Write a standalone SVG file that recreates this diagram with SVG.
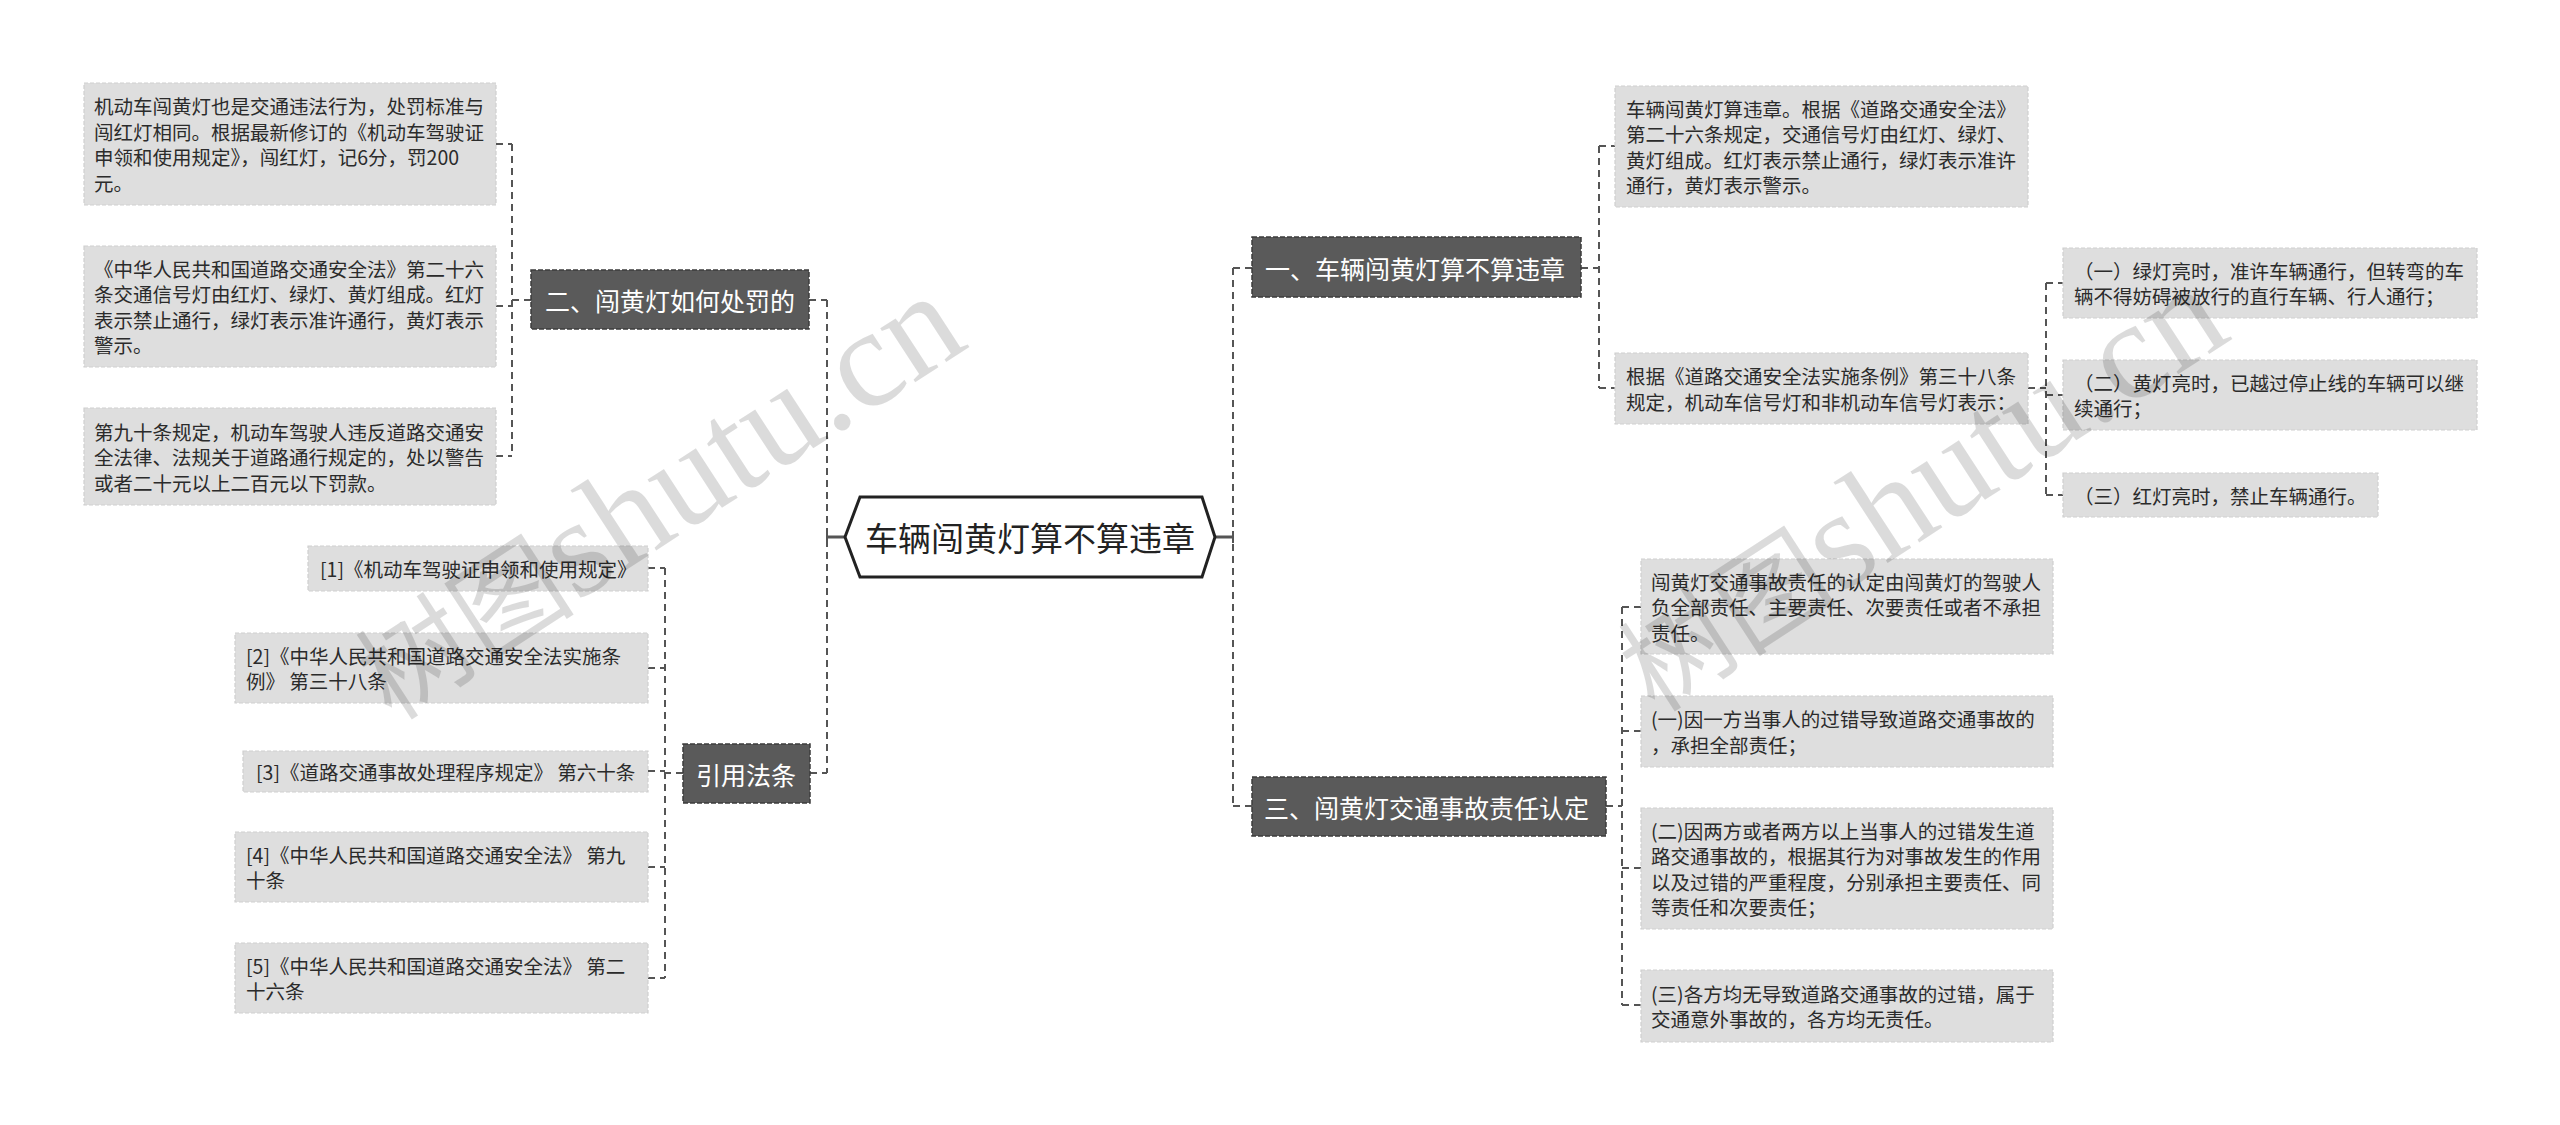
<svg xmlns="http://www.w3.org/2000/svg" width="2560" height="1125" viewBox="0 0 2560 1125">
<style>
  .bg{fill:#ffffff}
  .leaf{fill:#dedede;stroke:#cfcfcf;stroke-width:1.2;stroke-dasharray:4 2}
  .node{fill:#5a5a5a;stroke:#3c3c3c;stroke-width:1.5;stroke-dasharray:5 2}
  .lt{font-family:"Noto Sans CJK SC","Noto Sans",sans-serif;font-size:19.5px;fill:#2b2b2b;dominant-baseline:central}
  .nt{font-family:"Noto Sans CJK SC","Noto Sans",sans-serif;font-size:25px;fill:#ffffff;dominant-baseline:central}
  .rt{font-family:"Noto Sans CJK SC","Noto Sans",sans-serif;font-size:33px;fill:#222222;dominant-baseline:central;text-anchor:middle}
  .con{fill:none;stroke:#555555;stroke-width:2;stroke-dasharray:7 5}
  .sol{fill:none;stroke:#555555;stroke-width:3}
  .wm{font-family:"Noto Sans CJK SC",sans-serif;font-size:110px;fill:#000000;fill-opacity:0.14}
  .wml{font-family:"Liberation Serif",serif;font-size:140px}
</style>
<rect class="bg" x="0" y="0" width="2560" height="1125"/>

<g id="connectors">
  <path class="sol" d="M827,537 H845 M1215,537 H1233"/>
  <path class="sol" d="M827,531 V543 M1233,531 V543" style="stroke-width:2"/>
  <path class="con" d="M827,300 V773"/>
  <path class="con" d="M809,300 H827 M810,773 H827"/>
  <path class="con" d="M531,300 H512 M512,144 V456 M496,144 H512 M496,306 H512 M496,456 H512"/>
  <path class="con" d="M683,773 H665 M665,568 V978 M648,568 H665 M648,668 H665 M648,771 H665 M648,867 H665 M648,978 H665"/>
  <path class="con" d="M1233,268 V806 M1233,268 H1252 M1233,806 H1252"/>
  <path class="con" d="M1581,268 H1599 M1599,146 V388 M1599,146 H1615 M1599,388 H1615"/>
  <path class="con" d="M2028,388 H2046 M2046,283 V495 M2046,283 H2063 M2046,395 H2063 M2046,495 H2063"/>
  <path class="con" d="M1606,806 H1622 M1622,607 V1005 M1622,607 H1641 M1622,731 H1641 M1622,868 H1641 M1622,1005 H1641"/>
</g>

<g id="root">
  <polygon points="845,537 860,497 1202,497 1215,537 1202,577 860,577" fill="#ffffff" stroke="#222222" stroke-width="3"/>
  <text class="rt" x="1030" y="537">车辆闯黄灯算不算违章</text>
</g>

<g id="n2">
  <rect class="node" x="531" y="270" width="278" height="59"/>
  <text class="nt" x="545" y="299.5">二、闯黄灯如何处罚的</text>
</g>
<g id="l1">
  <rect class="leaf" x="84" y="83" width="412" height="122"/>
  <text class="lt" x="94" y="105.75">机动车闯黄灯也是交通违法行为，处罚标准与</text>
  <text class="lt" x="94" y="131.25">闯红灯相同。根据最新修订的《机动车驾驶证</text>
  <text class="lt" x="94" y="156.75">申领和使用规定》，闯红灯，记6分，罚200</text>
  <text class="lt" x="94" y="182.25">元。</text>
</g>
<g id="l2">
  <rect class="leaf" x="84" y="246" width="412" height="121"/>
  <text class="lt" x="94" y="268.25">《中华人民共和国道路交通安全法》第二十六</text>
  <text class="lt" x="94" y="293.75">条交通信号灯由红灯、绿灯、黄灯组成。红灯</text>
  <text class="lt" x="94" y="319.25">表示禁止通行，绿灯表示准许通行，黄灯表示</text>
  <text class="lt" x="94" y="344.75">警示。</text>
</g>
<g id="l3">
  <rect class="leaf" x="84" y="408" width="412" height="97"/>
  <text class="lt" x="94" y="431">第九十条规定，机动车驾驶人违反道路交通安</text>
  <text class="lt" x="94" y="456.5">全法律、法规关于道路通行规定的，处以警告</text>
  <text class="lt" x="94" y="482">或者二十元以上二百元以下罚款。</text>
</g>

<g id="nref">
  <rect class="node" x="683" y="744" width="127" height="59"/>
  <text class="nt" x="696" y="773.5">引用法条</text>
</g>
<g id="r1">
  <rect class="leaf" x="308" y="546" width="340" height="45"/>
  <text class="lt" x="320" y="568.5">[1]《机动车驾驶证申领和使用规定》</text>
</g>
<g id="r2">
  <rect class="leaf" x="235" y="633" width="413" height="70"/>
  <text class="lt" x="246" y="655.25">[2]《中华人民共和国道路交通安全法实施条</text>
  <text class="lt" x="246" y="680.75">例》 第三十八条</text>
</g>
<g id="r3">
  <rect class="leaf" x="243" y="751" width="405" height="41"/>
  <text class="lt" x="256" y="771.5">[3]《道路交通事故处理程序规定》 第六十条</text>
</g>
<g id="r4">
  <rect class="leaf" x="235" y="832" width="413" height="70"/>
  <text class="lt" x="246" y="854.25">[4]《中华人民共和国道路交通安全法》 第九</text>
  <text class="lt" x="246" y="879.75">十条</text>
</g>
<g id="r5">
  <rect class="leaf" x="235" y="943" width="413" height="70"/>
  <text class="lt" x="246" y="965.25">[5]《中华人民共和国道路交通安全法》 第二</text>
  <text class="lt" x="246" y="990.75">十六条</text>
</g>

<g id="n1">
  <rect class="node" x="1252" y="237" width="329" height="60"/>
  <text class="nt" x="1265" y="267.5">一、车辆闯黄灯算不算违章</text>
</g>
<g id="a1">
  <rect class="leaf" x="1615" y="86" width="413" height="121"/>
  <text class="lt" x="1626" y="108.25">车辆闯黄灯算违章。根据《道路交通安全法》</text>
  <text class="lt" x="1626" y="133.75">第二十六条规定，交通信号灯由红灯、绿灯、</text>
  <text class="lt" x="1626" y="159.25">黄灯组成。红灯表示禁止通行，绿灯表示准许</text>
  <text class="lt" x="1626" y="184.75">通行，黄灯表示警示。</text>
</g>
<g id="b1">
  <rect class="leaf" x="1615" y="353" width="413" height="71"/>
  <text class="lt" x="1626" y="375.75">根据《道路交通安全法实施条例》第三十八条</text>
  <text class="lt" x="1626" y="401.25">规定，机动车信号灯和非机动车信号灯表示：</text>
</g>
<g id="s1">
  <rect class="leaf" x="2063" y="248" width="414" height="70"/>
  <text class="lt" x="2074" y="270.25">（一）绿灯亮时，准许车辆通行，但转弯的车</text>
  <text class="lt" x="2074" y="295.75">辆不得妨碍被放行的直行车辆、行人通行；</text>
</g>
<g id="s2">
  <rect class="leaf" x="2063" y="360" width="414" height="70"/>
  <text class="lt" x="2074" y="382.25">（二）黄灯亮时，已越过停止线的车辆可以继</text>
  <text class="lt" x="2074" y="407.75">续通行；</text>
</g>
<g id="s3">
  <rect class="leaf" x="2063" y="473" width="315" height="44"/>
  <text class="lt" x="2074" y="495">（三）红灯亮时，禁止车辆通行。</text>
</g>

<g id="n3">
  <rect class="node" x="1252" y="777" width="354" height="59"/>
  <text class="nt" x="1264" y="806.5">三、闯黄灯交通事故责任认定</text>
</g>
<g id="t1">
  <rect class="leaf" x="1641" y="559" width="412" height="95"/>
  <text class="lt" x="1651" y="581">闯黄灯交通事故责任的认定由闯黄灯的驾驶人</text>
  <text class="lt" x="1651" y="606.5">负全部责任、主要责任、次要责任或者不承担</text>
  <text class="lt" x="1651" y="632">责任。</text>
</g>
<g id="t2">
  <rect class="leaf" x="1641" y="696" width="412" height="71"/>
  <text class="lt" x="1651" y="718.75">(一)因一方当事人的过错导致道路交通事故的</text>
  <text class="lt" x="1651" y="744.25">，承担全部责任；</text>
</g>
<g id="t3">
  <rect class="leaf" x="1641" y="808" width="412" height="121"/>
  <text class="lt" x="1651" y="830.25">(二)因两方或者两方以上当事人的过错发生道</text>
  <text class="lt" x="1651" y="855.75">路交通事故的，根据其行为对事故发生的作用</text>
  <text class="lt" x="1651" y="881.25">以及过错的严重程度，分别承担主要责任、同</text>
  <text class="lt" x="1651" y="906.75">等责任和次要责任；</text>
</g>
<g id="t4">
  <rect class="leaf" x="1641" y="970" width="412" height="72"/>
  <text class="lt" x="1651" y="993.25">(三)各方均无导致道路交通事故的过错，属于</text>
  <text class="lt" x="1651" y="1018.75">交通意外事故的，各方均无责任。</text>
</g>

<g id="watermark">
  <text class="wm" transform="translate(392,722) rotate(-33)">树图<tspan class="wml">shutu.cn</tspan></text>
  <text class="wm" transform="translate(1655,714) rotate(-33)">树图<tspan class="wml">shutu.cn</tspan></text>
</g>
</svg>
